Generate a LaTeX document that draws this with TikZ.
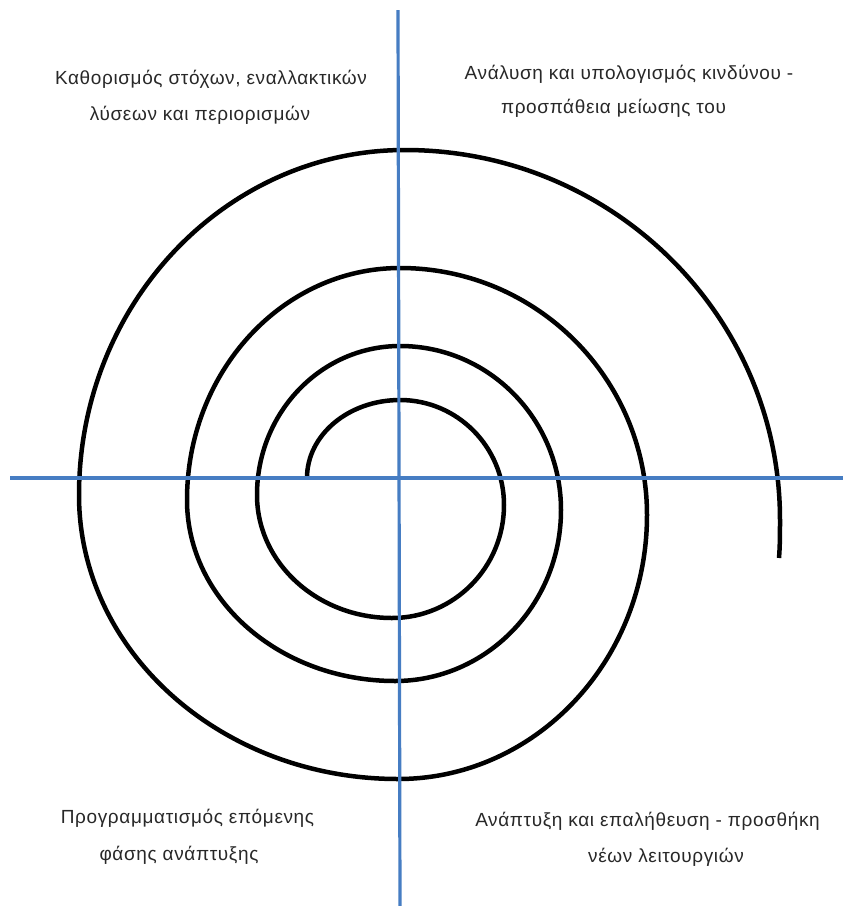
\documentclass[tikz,border=0pt]{standalone}
\usepackage{fontspec}
\setmainfont{Liberation Sans}
\newfontfamily\lblfont[LetterSpace=3.3]{Liberation Sans}
\definecolor{axisblue}{RGB}{70,125,195}
\definecolor{txtgray}{RGB}{40,40,40}
\begin{document}
\begin{tikzpicture}[x=1pt,y=-1pt,
  spiral/.style={line width=4.5pt, draw=black},
  axisline/.style={line width=3.2pt, draw=axisblue},
  lbl/.style={font=\lblfont\fontsize{19}{22}\selectfont, text=txtgray, inner sep=0pt, anchor=base}]
\fill[white] (0,0) rectangle (843,906);
\useasboundingbox (0,0) rectangle (843,906);
% spiral key points
\coordinate (S)  at (307,478);
\coordinate (T1) at (400,400);
\coordinate (R1) at (504,505);
\coordinate (B1) at (392,618);
\coordinate (L2) at (257,495);
\coordinate (T2) at (400,346);
\coordinate (R2) at (561,510);
\coordinate (B2) at (395,681);
\coordinate (L3) at (187,500);
\coordinate (T3) at (400,268);
\coordinate (R3) at (647,515);
\coordinate (B3) at (398,779);
\coordinate (L4) at (79,495);
\coordinate (T4) at (405,150);
\coordinate (R4) at (780,520);
\coordinate (E)  at (779,558);
\draw[spiral] (S) .. controls (307,434.9) and (348.6,400) .. (T1)
  .. controls (457.4,400) and (504,447.0) .. (R1)
  .. controls (504,567.4) and (453.9,618) .. (B1)
  .. controls (317.4,618) and (257,562.9) .. (L2)
  .. controls (257,412.7) and (321.0,346) .. (T2)
  .. controls (488.9,346) and (561,419.4) .. (R2)
  .. controls (561,604.4) and (486.7,681) .. (B2)
  .. controls (280.1,681) and (187,600.0) .. (L3)
  .. controls (187,371.9) and (282.4,268) .. (T3)
  .. controls (536.4,268) and (647,378.6) .. (R3)
  .. controls (647,660.8) and (535.5,779) .. (B3)
  .. controls (221.8,779) and (79,651.9) .. (L4)
  .. controls (79,304.5) and (225.0,150) .. (T4)
  .. controls (612.1,150) and (780,315.6) .. (R4)
  .. controls (780,533) and (780,546) .. (E);
% axes
\coordinate (vtop) at (398,10);
\coordinate (vbot) at (400,906);
\coordinate (hleft) at (10,478);
\coordinate (hright) at (843,478);
\draw[axisline] (vtop) -- (vbot);
\draw[axisline] (hleft) -- (hright);
% labels
\node[lbl] (tl1) at (211,84) {Καθορισμός στόχων, εναλλακτικών};
\node[lbl] (tl2) at (200,120) {λύσεων και περιορισμών};
\node[lbl] (tr1) at (629,79) {Ανάλυση και υπολογισμός κινδύνου -};
\node[lbl] (tr2) at (613.5,113) {προσπάθεια μείωσης του};
\node[lbl] (bl1) at (187.5,823) {Προγραμματισμός επόμενης};
\node[lbl] (bl2) at (179,860) {φάσης ανάπτυξης};
\node[lbl] (br1) at (647.5,826) {Ανάπτυξη και επαλήθευση - προσθήκη};
\node[lbl] (br2) at (666,862) {νέων λειτουργιών};
\end{tikzpicture}
\end{document}
